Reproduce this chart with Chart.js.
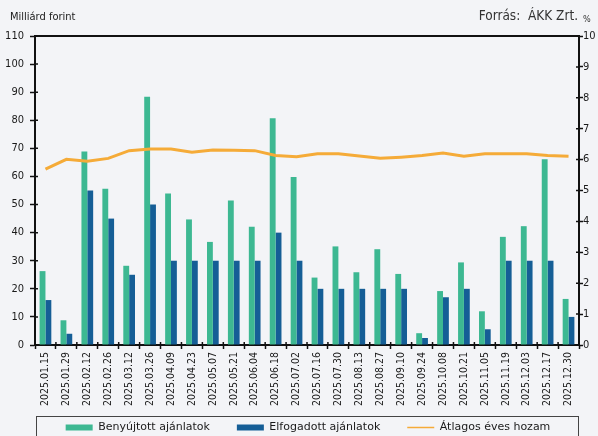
<!DOCTYPE html>
<html>
<head>
<meta charset="utf-8">
<script src="https://cdn.jsdelivr.net/npm/chart.js@4"></script>
<style>
html, body { margin: 0; padding: 0; overflow: hidden; background: #f3f4f7; }
#wrap { width: 606px; height: 456px; }
</style>
</head>
<body>
<div id="wrap"><canvas id="chart"></canvas></div>
<script>
// Aukciós dátumok
var dates = ['2025.01.15', '2025.01.29', '2025.02.12', '2025.02.26', '2025.03.12', '2025.03.26',
    '2025.04.09', '2025.04.23', '2025.05.07', '2025.05.21', '2025.06.04', '2025.06.18',
    '2025.07.02', '2025.07.16', '2025.07.30', '2025.08.13', '2025.08.27', '2025.09.10',
    '2025.09.24', '2025.10.08', '2025.10.21', '2025.11.05', '2025.11.19', '2025.12.03',
    '2025.12.17', '2025.12.30'];

// Milliárd forint
var benyujtott = [26.3, 8.8, 68.9, 55.6, 28.2, 88.4, 53.9, 44.7, 36.7, 51.4, 42.1, 80.7, 59.8,
    24.0, 35.1, 25.9, 34.1, 25.3, 4.2, 19.2, 29.4, 12.0, 38.5, 42.3, 66.1, 16.4];
var elfogadott = [16, 4, 55, 45, 25, 50, 30, 30, 30, 30, 30, 40, 30,
    20, 20, 20, 20, 20, 2.5, 17, 20, 5.6, 30, 30, 30, 10];

// Átlagos éves hozam, %
var hozam = [5.69, 6.01, 5.95, 6.04, 6.29, 6.34, 6.34, 6.24, 6.31, 6.30, 6.29, 6.13, 6.09,
    6.19, 6.19, 6.12, 6.04, 6.08, 6.13, 6.21, 6.11, 6.19, 6.19, 6.19, 6.13, 6.11];

var bgColor = '#f3f4f7';
var textColor = '#1a1a1a';
var condFont = "'DejaVu Sans Condensed', 'DejaVu Sans', sans-serif";
var wideFont = "'DejaVu Sans', sans-serif";
var legendPad = 27;

Chart.defaults.font.family = condFont;
Chart.defaults.color = textColor;

// háttér, keret, feliratok
var decorPlugin = {
    id: 'decor',
    afterLayout: function (chart) {
        // jelmagyarázat feljebb és kicsit jobbra
        var lg = chart.legend;
        var a = chart.chartArea;
        var top = a.bottom + 77 - legendPad;
        var h = lg.bottom - lg.top;
        lg.top = top;
        lg.bottom = top + h;
        lg.left += 5;
        lg.right += 5;
    },
    beforeDraw: function (chart) {
        var ctx = chart.ctx;
        ctx.save();
        ctx.fillStyle = bgColor;
        ctx.fillRect(0, 0, chart.width, chart.height);
        ctx.restore();
    },
    afterDraw: function (chart) {
        var ctx = chart.ctx;
        var a = chart.chartArea;
        ctx.save();
        // felső keretvonal
        ctx.strokeStyle = '#111';
        ctx.lineWidth = 2;
        ctx.beginPath();
        ctx.moveTo(a.left, a.top);
        ctx.lineTo(a.right, a.top);
        ctx.stroke();

        // befelé álló osztásjelek
        ctx.lineWidth = 1.5;
        var y = chart.scales.y, y2 = chart.scales.y2;
        ctx.beginPath();
        y.ticks.forEach(function (t) {
            var p = y.getPixelForValue(t.value);
            ctx.moveTo(a.left, p); ctx.lineTo(a.left + 3, p);
        });
        y2.ticks.forEach(function (t) {
            var p = y2.getPixelForValue(t.value);
            ctx.moveTo(a.right - 3, p); ctx.lineTo(a.right, p);
        });
        var step = (a.right - a.left) / dates.length;
        for (var i = 0; i <= dates.length; i++) {
            var px = a.left + i * step;
            ctx.moveTo(px, a.bottom); ctx.lineTo(px, a.bottom - 3);
        }
        ctx.stroke();

        // jelmagyarázat kerete
        ctx.strokeStyle = '#444';
        ctx.lineWidth = 1;
        ctx.strokeRect(a.left + 1.5, a.bottom + 71.5, a.right - a.left - 2, 40);

        // szövegek
        ctx.fillStyle = textColor;
        ctx.textBaseline = 'middle';
        ctx.textAlign = 'left';
        ctx.font = '11px ' + condFont;
        ctx.fillText('Milliárd forint', 10, 17);
        ctx.fillStyle = '#333';
        ctx.textAlign = 'right';
        ctx.font = '13.5px ' + condFont;
        ctx.fillText('Forrás:  ÁKK Zrt.', 578, 16);
        ctx.textAlign = 'left';
        ctx.font = '9px ' + condFont;
        ctx.fillText('%', 583, 20);
        ctx.restore();
    }
};

var ctx = document.getElementById('chart').getContext('2d');
var chart = new Chart(ctx, {
    type: 'bar',
    data: {
        labels: dates,
        datasets: [{
            label: 'Benyújtott ajánlatok',
            data: benyujtott,
            backgroundColor: '#3db892',
            yAxisID: 'y',
            order: 1,
            pointStyle: 'rect'
        }, {
            label: 'Elfogadott ajánlatok',
            data: elfogadott,
            backgroundColor: '#155e96',
            yAxisID: 'y',
            order: 2,
            pointStyle: 'rect'
        }, {
            type: 'line',
            label: 'Átlagos éves hozam',
            data: hozam,
            borderColor: '#f5ab38',
            backgroundColor: '#f5ab38',
            borderWidth: 3,
            pointRadius: 0,
            tension: 0,
            yAxisID: 'y2',
            order: 0,
            pointStyle: 'line'
        }]
    },
    options: {
        responsive: true,
        maintainAspectRatio: false,
        animation: false,
        layout: { padding: { top: 36, left: 0, right: 0, bottom: 0 } },
        datasets: {
            bar: { categoryPercentage: 0.56, barPercentage: 1 }
        },
        scales: {
            x: {
                grid: { drawOnChartArea: false, tickLength: 4, tickColor: '#111', tickWidth: 1.5, offset: true },
                border: { color: '#111', width: 2 },
                ticks: { minRotation: 90, maxRotation: 90, padding: 3, autoSkip: false, font: { size: 10.5 } },
                afterFit: function (s) { s.height = 63; }
            },
            y: {
                position: 'left',
                min: 0, max: 110,
                ticks: { stepSize: 10, padding: 6, font: { size: 11 } },
                grid: { drawOnChartArea: false, tickLength: 5, tickColor: '#111', tickWidth: 1.5 },
                border: { color: '#111', width: 2 },
                afterFit: function (s) { s.width = 35; }
            },
            y2: {
                position: 'right',
                min: 0, max: 10,
                ticks: { stepSize: 1, padding: 0, font: { size: 11 } },
                grid: { drawOnChartArea: false, tickLength: 4, tickColor: '#111', tickWidth: 1.5 },
                border: { color: '#111', width: 2 },
                afterFit: function (s) { s.width = 27; }
            }
        },
        plugins: {
            tooltip: { enabled: false },
            legend: {
                position: 'bottom',
                labels: {
                    usePointStyle: true,
                    pointStyleWidth: 27,
                    boxHeight: 6,
                    padding: legendPad,
                    font: { size: 11, family: wideFont },
                    color: textColor,
                    sort: function (a, b) { return a.datasetIndex - b.datasetIndex; },
                    generateLabels: function (chart) {
                        var items = Chart.defaults.plugins.legend.labels.generateLabels(chart);
                        items.forEach(function (it) {
                            if (it.pointStyle === 'line') it.lineWidth = 1.5;
                        });
                        return items;
                    }
                }
            }
        }
    },
    plugins: [decorPlugin]
});
</script>
</body>
</html>
